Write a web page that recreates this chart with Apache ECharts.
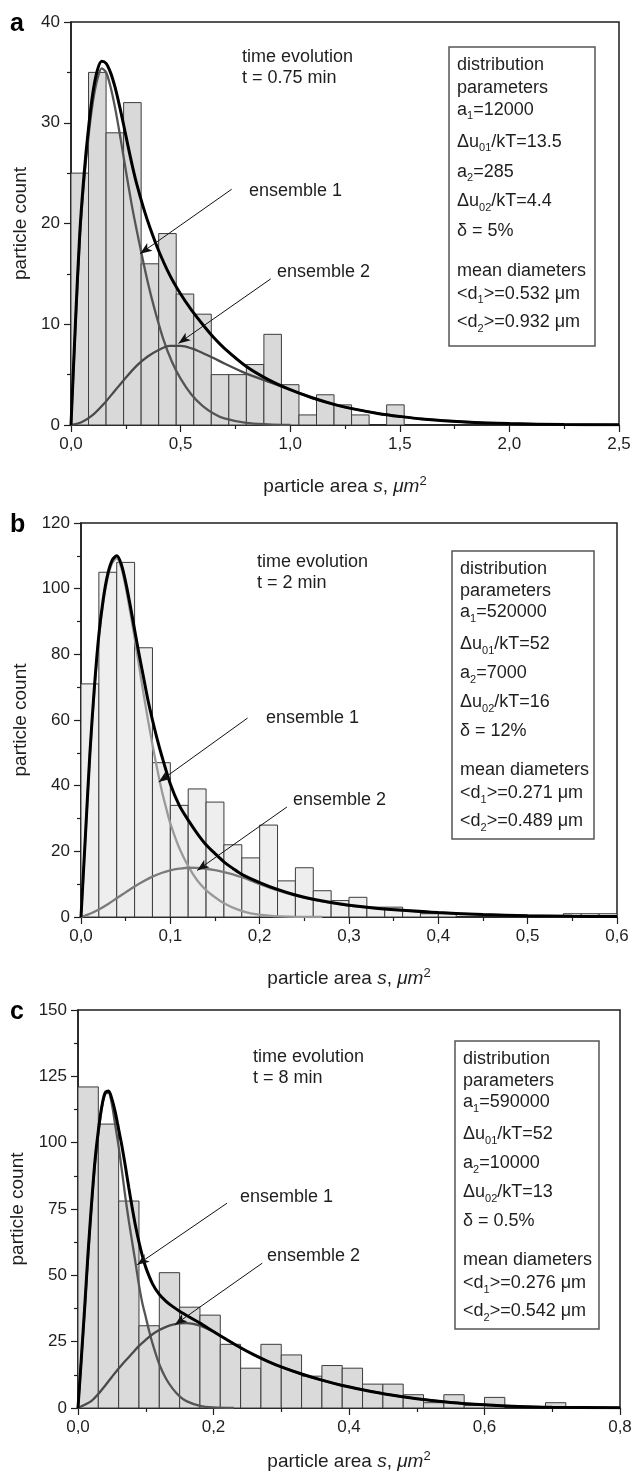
<!DOCTYPE html>
<html>
<head>
<meta charset="utf-8">
<script src="https://cdn.jsdelivr.net/npm/echarts@6/dist/echarts.min.js"></script>
<style>
  html, body { margin: 0; padding: 0; background: #fff; }
  #chart { width: 632px; height: 1474px; }
</style>
</head>
<body>
<div id="chart"></div>
<script>
// ---- panel a : t = 0.75 min ----
const binWidthA = 0.08;
const countsA = [25, 35, 29, 32, 16, 19, 13, 11, 5, 5, 6, 9, 4, 1, 3, 2, 1, 0, 2];
const totalA = [[0, 0], [0.02, 10], [0.04, 19], [0.06, 25], [0.08, 29.5], [0.1, 33], [0.12, 35.2],
  [0.14, 36.1], [0.16, 35.9], [0.18, 35], [0.2, 33.6], [0.22, 31.8], [0.24, 29.8], [0.26, 27.7],
  [0.28, 25.7], [0.3, 23.9], [0.33, 21.6], [0.36, 19.6], [0.4, 17.3], [0.45, 14.9], [0.5, 13.0],
  [0.55, 11.4], [0.6, 10.0], [0.65, 8.7], [0.7, 7.6], [0.8, 5.8], [0.9, 4.5], [1.0, 3.5], [1.1, 2.7],
  [1.2, 2.05], [1.3, 1.55], [1.4, 1.15], [1.5, 0.85], [1.6, 0.6], [1.8, 0.3], [2.0, 0.14],
  [2.25, 0.05], [2.5, 0.02]];
const ens1A = [[0, 0], [0.02, 9.6], [0.04, 18.5], [0.06, 24.3], [0.08, 28.7], [0.1, 32.1], [0.12, 34.3],
  [0.14, 35.4], [0.16, 35.0], [0.18, 33.6], [0.2, 31.6], [0.22, 29.2], [0.24, 26.6], [0.26, 24.0],
  [0.28, 21.5], [0.3, 19.3], [0.32, 17.2], [0.35, 14.2], [0.38, 11.6], [0.42, 8.6], [0.46, 6.3],
  [0.5, 4.6], [0.55, 3.0], [0.6, 1.9], [0.65, 1.15], [0.7, 0.65], [0.8, 0.2], [0.9, 0.06], [1.0, 0]];
const ens2A = [[0, 0], [0.05, 0.3], [0.1, 1.0], [0.15, 2.1], [0.2, 3.4], [0.25, 4.7], [0.3, 5.9],
  [0.35, 6.8], [0.4, 7.45], [0.45, 7.85], [0.5, 7.85], [0.55, 7.6], [0.6, 7.15], [0.65, 6.65],
  [0.7, 6.1], [0.8, 5.1], [0.9, 4.3], [1.0, 3.5], [1.1, 2.7], [1.2, 2.05], [1.3, 1.55], [1.4, 1.15],
  [1.5, 0.85], [1.6, 0.6], [1.8, 0.3], [2.0, 0.14], [2.25, 0.05], [2.5, 0.02]];
const arrowsA = [[[0.733, 23.4], [0.315, 17.0]], [[0.911, 14.5], [0.49, 8.1]]];
const timeA = ['time evolution', 't = 0.75 min'];
const paramsA = ['distribution', 'parameters', 'a{s|1}=12000', 'Δu{s|01}/kT=13.5', 'a{s|2}=285',
  'Δu{s|02}/kT=4.4', 'δ = 5%', 'mean diameters', '<d{s|1}>=0.532 μm', '<d{s|2}>=0.932 μm'];

// ---- panel b : t = 2 min ----
const binWidthB = 0.02;
const countsB = [71, 105, 108, 82, 47, 34, 39, 35, 22, 18, 28, 11, 15, 8, 5, 6, 3, 3, 2, 1,
  1, 0, 0, 0, 0, 0, 0, 1, 1, 1];
const totalB = [[0, 0], [0.005, 25], [0.01, 50], [0.015, 70], [0.02, 86], [0.025, 97], [0.03, 104.5],
  [0.035, 108.7], [0.04, 110], [0.045, 107.5], [0.05, 102], [0.055, 95], [0.06, 87.5], [0.065, 80],
  [0.07, 73], [0.075, 66], [0.08, 60], [0.085, 54.5], [0.09, 49.5], [0.1, 40.5], [0.11, 34],
  [0.12, 29.5], [0.13, 25.5], [0.14, 22], [0.15, 19.3], [0.16, 16.8], [0.17, 14.8], [0.18, 13],
  [0.2, 10.5], [0.22, 8.4], [0.24, 6.7], [0.26, 5.4], [0.28, 4.4], [0.3, 3.6], [0.33, 2.7],
  [0.36, 2.05], [0.4, 1.35], [0.45, 0.75], [0.5, 0.4], [0.55, 0.22], [0.6, 0.12]];
const ens1B = [[0, 0], [0.005, 24.5], [0.01, 49.5], [0.015, 69], [0.02, 85], [0.025, 96], [0.03, 103.5],
  [0.035, 107.8], [0.04, 109.2], [0.045, 106.5], [0.05, 100.5], [0.055, 93], [0.06, 85], [0.065, 76.5],
  [0.07, 68], [0.075, 60], [0.08, 52.5], [0.085, 45.5], [0.09, 39], [0.095, 33.5], [0.1, 28.5],
  [0.11, 21], [0.12, 15.5], [0.13, 11.2], [0.14, 8.2], [0.15, 6.0], [0.16, 4.2], [0.175, 2.3],
  [0.19, 1.1], [0.21, 0.4], [0.24, 0.05], [0.27, 0]];
const ens2B = [[0, 0], [0.01, 1.0], [0.02, 2.3], [0.03, 3.9], [0.04, 5.7], [0.05, 7.5], [0.06, 9.3],
  [0.07, 10.9], [0.08, 12.3], [0.09, 13.4], [0.1, 14.2], [0.11, 14.7], [0.12, 15.0], [0.13, 14.95],
  [0.14, 14.7], [0.15, 14.3], [0.16, 13.7], [0.17, 13.0], [0.18, 12.1], [0.19, 11.1], [0.2, 10.0],
  [0.22, 8.1], [0.24, 6.5], [0.26, 5.3], [0.28, 4.3], [0.3, 3.5], [0.33, 2.7], [0.36, 2.05],
  [0.4, 1.35], [0.45, 0.75], [0.5, 0.4], [0.55, 0.22], [0.6, 0.12]];
const arrowsB = [[[0.1865, 60.6], [0.087, 41.1]], [[0.2305, 33.5], [0.13, 14.2]]];
const timeB = ['time evolution', 't = 2 min'];
const paramsB = ['distribution', 'parameters', 'a{s|1}=520000', 'Δu{s|01}/kT=52', 'a{s|2}=7000',
  'Δu{s|02}/kT=16', 'δ = 12%', 'mean diameters', '<d{s|1}>=0.271 μm', '<d{s|2}>=0.489 μm'];

// ---- panel c : t = 8 min ----
const binWidthC = 0.03;
const countsC = [121, 107, 78, 31, 51, 38, 35, 24, 15, 24, 20, 12, 16, 15, 9, 9, 5, 2, 5, 1,
  4, 0, 0, 2, 0, 0, 0];
const totalC = [[0, 0], [0.005, 19], [0.01, 38.5], [0.015, 59], [0.02, 77], [0.025, 93], [0.03, 104.5],
  [0.035, 113.5], [0.04, 118.8], [0.045, 119.5], [0.05, 116.5], [0.055, 111.5], [0.06, 105],
  [0.065, 98.5], [0.07, 91], [0.075, 83], [0.08, 75.5], [0.085, 68.5], [0.09, 62.5], [0.095, 57.3],
  [0.1, 53], [0.11, 46.8], [0.12, 42.8], [0.13, 40.2], [0.14, 38.2], [0.15, 36.5], [0.165, 34.2],
  [0.18, 32], [0.2, 28.8], [0.22, 25.7], [0.24, 22.7], [0.26, 20], [0.28, 17.6], [0.3, 15.5],
  [0.33, 12.8], [0.36, 10.5], [0.39, 8.5], [0.42, 6.9], [0.46, 5.0], [0.5, 3.5], [0.55, 2.1],
  [0.6, 1.2], [0.65, 0.6], [0.7, 0.3], [0.8, 0.05]];
const ens1C = [[0, 0], [0.005, 18.5], [0.01, 37.5], [0.015, 58], [0.02, 76], [0.025, 92], [0.03, 103.5],
  [0.035, 112.8], [0.04, 118.3], [0.045, 118.8], [0.05, 114.5], [0.055, 106.5], [0.06, 98.5],
  [0.065, 89], [0.07, 79.3], [0.075, 70.5], [0.08, 62.5], [0.085, 54.5], [0.09, 46.3], [0.095, 39.5],
  [0.1, 34.3], [0.105, 29], [0.11, 24.3], [0.12, 16.5], [0.13, 11], [0.14, 7.2], [0.15, 4.4],
  [0.16, 2.6], [0.18, 0.8], [0.2, 0.2], [0.23, 0]];
const ens2C = [[0, 0], [0.01, 1.2], [0.02, 2.7], [0.03, 5.3], [0.04, 8.4], [0.05, 11.7], [0.06, 14.9],
  [0.07, 17.8], [0.08, 20.6], [0.09, 23.4], [0.1, 25.7], [0.11, 27.8], [0.12, 29.4], [0.13, 30.6],
  [0.14, 31.4], [0.15, 31.9], [0.16, 32], [0.17, 31.7], [0.18, 31.0], [0.19, 30.0], [0.2, 28.7],
  [0.22, 25.7], [0.24, 22.7], [0.26, 20], [0.28, 17.6], [0.3, 15.5], [0.33, 12.8], [0.36, 10.5],
  [0.39, 8.5], [0.42, 6.9], [0.46, 5.0], [0.5, 3.5], [0.55, 2.1], [0.6, 1.2], [0.65, 0.6],
  [0.7, 0.3], [0.8, 0.05]];
const arrowsC = [[[0.22, 77.2], [0.0874, 54.0]], [[0.272, 54.6], [0.143, 31.4]]];
const timeC = ['time evolution', 't = 8 min'];
const paramsC = ['distribution', 'parameters', 'a{s|1}=590000', 'Δu{s|01}/kT=52', 'a{s|2}=10000',
  'Δu{s|02}/kT=13', 'δ = 0.5%', 'mean diameters', '<d{s|1}>=0.276 μm', '<d{s|2}>=0.542 μm'];

const FONT = '"Liberation Sans", Arial, Helvetica, sans-serif';
const INK = '#1e1e1e';
const boxLineY = [18, 40, 61.5, 93, 122.5, 151, 180, 219.5, 242, 270];

const panels = [
  {
    letter: 'a', grid: { left: 71, top: 22, width: 548, height: 403 },
    xMax: 2.5, xStep: 0.5, yMax: 40, yStep: 10, xNameGap: 50,
    binWidth: binWidthA, counts: countsA, total: totalA, ens1: ens1A, ens2: ens2A, arrows: arrowsA,
    fill: '#d9d9d9', c1: '#555555', c2: '#4a4a4a',
    time: timeA, params: paramsA, box: [449, 47, 146, 299], boxScale: 1.02,
    timePos: [242, 46], e1Pos: [249, 191], e2Pos: [277, 272]
  },
  {
    letter: 'b', grid: { left: 81, top: 523, width: 536, height: 394 },
    xMax: 0.6, xStep: 0.1, yMax: 120, yStep: 20, xNameGap: 50,
    binWidth: binWidthB, counts: countsB, total: totalB, ens1: ens1B, ens2: ens2B, arrows: arrowsB,
    fill: '#eeeeee', c1: '#9a9a9a', c2: '#7a7a7a',
    time: timeB, params: paramsB, box: [452, 551, 142, 288], boxScale: 1,
    timePos: [257, 551], e1Pos: [266, 718], e2Pos: [293, 800]
  },
  {
    letter: 'c', grid: { left: 78, top: 1010, width: 542, height: 398 },
    xMax: 0.8, xStep: 0.2, yMax: 150, yStep: 25, xNameGap: 42,
    binWidth: binWidthC, counts: countsC, total: totalC, ens1: ens1C, ens2: ens2C, arrows: arrowsC,
    fill: '#dadada', c1: '#555555', c2: '#4a4a4a',
    time: timeC, params: paramsC, box: [455, 1041, 144, 288], boxScale: 1,
    timePos: [253, 1046], e1Pos: [240, 1197], e2Pos: [267, 1256]
  }
];

function renderBins(fill) {
  return function (params, api) {
    const n = api.value(2);
    if (!n) return null;
    const p0 = api.coord([api.value(0), n]);
    const p1 = api.coord([api.value(1), 0]);
    return {
      type: 'rect',
      shape: { x: p0[0], y: p0[1], width: p1[0] - p0[0], height: p1[1] - p0[1] },
      style: { fill: fill, stroke: '#3c3c3c', lineWidth: 1 }
    };
  };
}

const subStyle = { fontSize: 11, lineHeight: 12, verticalAlign: 'bottom', fontFamily: FONT, fill: INK };

const grids = [], xAxes = [], yAxes = [], series = [], elements = [];

panels.forEach((p, i) => {
  grids.push(Object.assign({ containLabel: false, outerBoundsMode: 'none', show: true,
    borderColor: INK, borderWidth: 1.5, backgroundColor: 'transparent' }, p.grid));

  const tickStyle = { color: INK, width: 1.2 };
  xAxes.push({
    type: 'value', gridIndex: i, min: 0, max: p.xMax, interval: p.xStep,
    axisLine: { show: true, onZero: false, lineStyle: { color: INK, width: 1.5 } },
    axisTick: { show: true, inside: false, length: 7, lineStyle: tickStyle },
    minorTick: { show: true, splitNumber: 2, length: 4, lineStyle: tickStyle },
    splitLine: { show: false }, minorSplitLine: { show: false },
    axisLabel: { color: INK, fontSize: 17, fontFamily: FONT, margin: 11, showMaxLabel: true,
      formatter: v => v.toFixed(1).replace('.', ',') },
    name: 'particle area {i|s}, {i|μm}{sup|2}', nameLocation: 'middle', nameGap: p.xNameGap,
    nameTextStyle: {
      color: INK, fontSize: 19, fontFamily: FONT, lineHeight: 24,
      rich: {
        i: { fontStyle: 'italic', fontSize: 19, fontFamily: FONT, color: INK, lineHeight: 24 },
        sup: { fontSize: 13, fontFamily: FONT, color: INK, lineHeight: 12, verticalAlign: 'top' }
      }
    }
  });
  yAxes.push({
    type: 'value', gridIndex: i, min: 0, max: p.yMax, interval: p.yStep,
    axisLine: { show: true, onZero: false, lineStyle: { color: INK, width: 1.5 } },
    axisTick: { show: true, inside: false, length: 7, lineStyle: tickStyle },
    minorTick: { show: true, splitNumber: 2, length: 4, lineStyle: tickStyle },
    splitLine: { show: false }, minorSplitLine: { show: false },
    axisLabel: { color: INK, fontSize: 17, fontFamily: FONT, margin: 11, showMaxLabel: true },
    name: 'particle count', nameLocation: 'middle', nameGap: 41,
    nameTextStyle: { color: INK, fontSize: 19, fontFamily: FONT }
  });

  series.push({
    type: 'custom', xAxisIndex: i, yAxisIndex: i, clip: true, silent: true,
    renderItem: renderBins(p.fill),
    encode: { x: [0, 1], y: 2 },
    data: p.counts.map((c, k) => [k * p.binWidth, (k + 1) * p.binWidth, c]),
    z: 1
  });

  const curve = (data, color, width, z) => ({
    type: 'line', xAxisIndex: i, yAxisIndex: i, data: data, showSymbol: false, symbol: 'none',
    smooth: 0.3, silent: true, clip: true,
    lineStyle: { color: color, width: width }, z: z
  });
  series.push(curve(p.ens1, p.c1, 2.3, 3));
  series.push(curve(p.ens2, p.c2, 2.3, 3));
  const tot = curve(p.total, '#000000', 3, 4);
  tot.markLine = {
    silent: true, animation: false, precision: 6,
    lineStyle: { type: 'solid', color: '#111', width: 1 },
    label: { show: false }, emphasis: { disabled: true },
    data: p.arrows.map(a => [
      { coord: a[0], symbol: 'none' },
      { coord: a[1], symbol: 'arrow', symbolSize: [7, 12] }
    ])
  };
  series.push(tot);

  // panel letter
  elements.push({ type: 'text', x: 10, y: p.grid.top + 2, silent: true,
    style: { text: p.letter, fontSize: 25, fontWeight: 'bold', fontFamily: FONT, fill: '#000', verticalAlign: 'middle' } });

  // time evolution note
  elements.push({ type: 'text', x: p.timePos[0], y: p.timePos[1], silent: true,
    style: { text: p.time.join('\n'), fontSize: 18, lineHeight: 21.5, fontFamily: FONT, fill: INK, verticalAlign: 'top' } });

  // arrow labels
  [[p.e1Pos, 'ensemble 1'], [p.e2Pos, 'ensemble 2']].forEach(([pos, t]) => {
    elements.push({ type: 'text', x: pos[0], y: pos[1], silent: true,
      style: { text: t, fontSize: 18, fontFamily: FONT, fill: INK, verticalAlign: 'middle' } });
  });

  // parameter box
  const b = p.box;
  elements.push({ type: 'rect', silent: true, shape: { x: b[0], y: b[1], width: b[2], height: b[3] },
    style: { fill: 'rgba(0,0,0,0)', stroke: '#555', lineWidth: 1.5 } });
  p.params.forEach((t, k) => {
    elements.push({ type: 'text', x: b[0] + 8, y: b[1] + boxLineY[k] * p.boxScale, silent: true,
      style: { text: t, fontSize: 18, lineHeight: 24, fontFamily: FONT, fill: INK, verticalAlign: 'middle',
        rich: { s: subStyle } } });
  });
});

const chart = echarts.init(document.getElementById('chart'), null, { renderer: 'canvas' });
chart.setOption({
  animation: false,
  backgroundColor: '#ffffff',
  grid: grids,
  xAxis: xAxes,
  yAxis: yAxes,
  series: series,
  graphic: { elements: elements }
});
</script>
</body>
</html>
